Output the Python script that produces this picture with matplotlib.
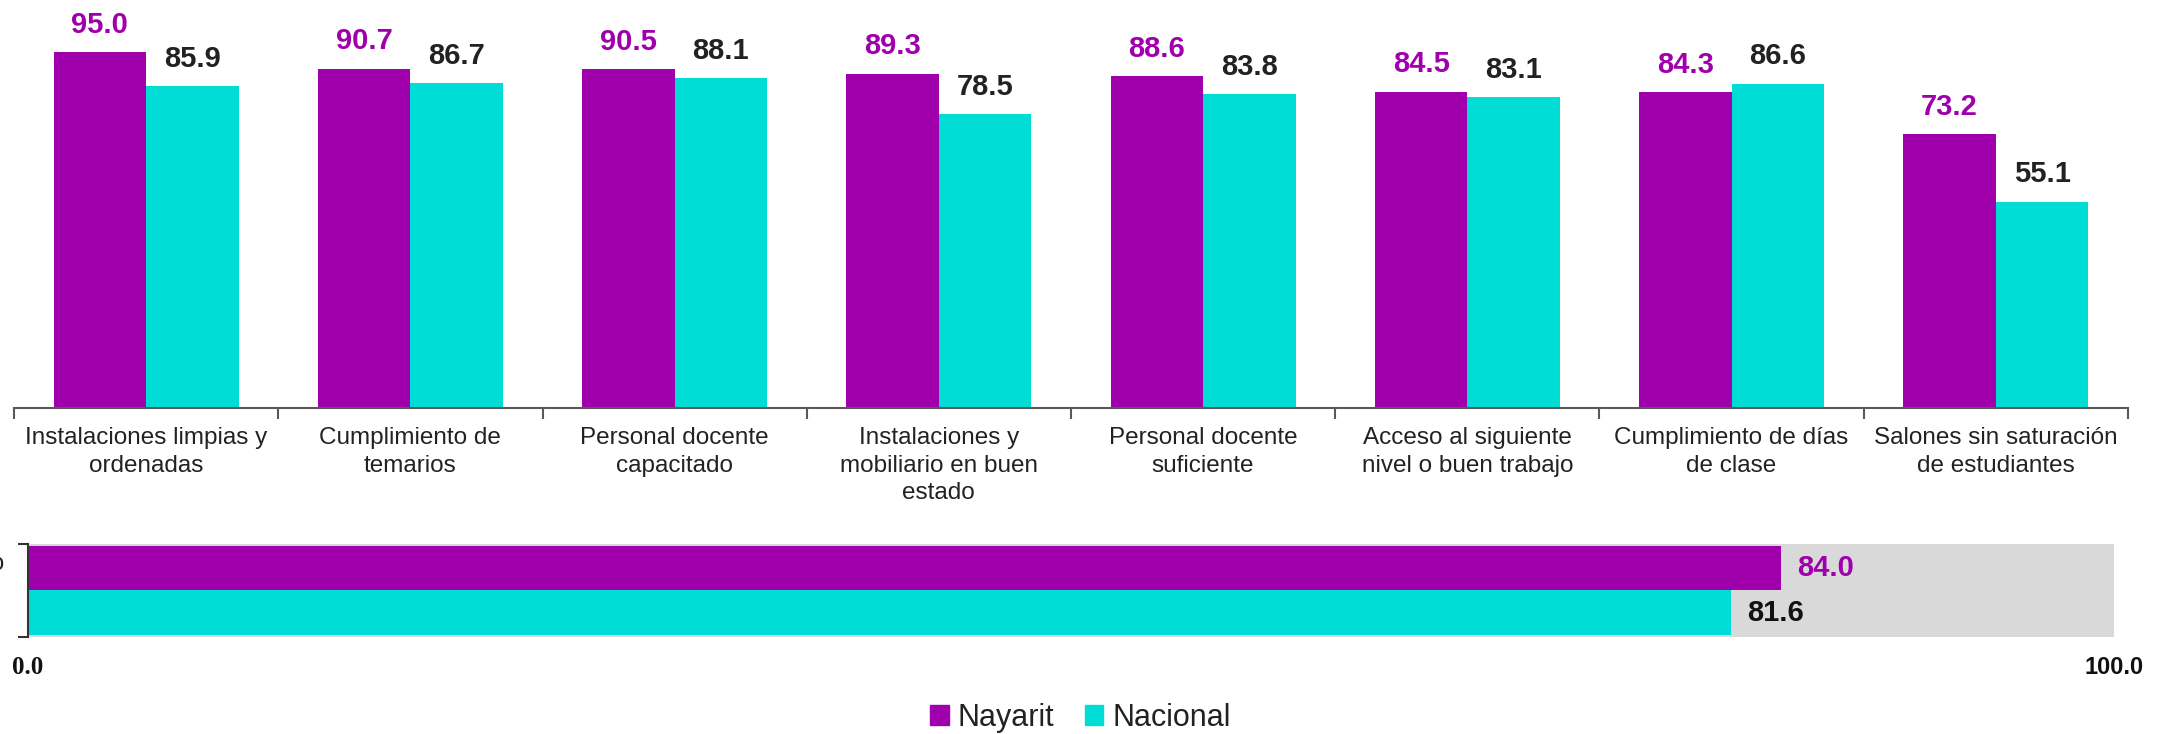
import matplotlib
matplotlib.use("Agg")
import matplotlib.pyplot as plt
from matplotlib.patches import Patch
import numpy as np

plt.rcParams['font.family'] = ['Liberation Sans', 'DejaVu Sans']

# datos
categorias = [
    "Instalaciones limpias y\nordenadas",
    "Cumplimiento de\ntemarios",
    "Personal docente\ncapacitado",
    "Instalaciones y\nmobiliario en buen\nestado",
    "Personal docente\nsuficiente",
    "Acceso al siguiente\nnivel o buen trabajo",
    "Cumplimiento de días\nde clase",
    "Salones sin saturación\nde estudiantes",
]
nayarit = [95.0, 90.7, 90.5, 89.3, 88.6, 84.5, 84.3, 73.2]
nacional = [85.9, 86.7, 88.1, 78.5, 83.8, 83.1, 86.6, 55.1]
promedio_etiqueta = "Promedio"
promedio_nayarit = 84.0
promedio_nacional = 81.6
escala = [0.0, 100.0]

morado = '#A000AC'
cian = '#00DDD6'
texto = '#222222'
gris = '#D9D9D9'

fig = plt.figure(figsize=(21.61, 7.34), dpi=100)

###
### Grafica de barras superior
###
ax = fig.add_axes([0.0065, 0.4441, 0.9782, 0.5559])
x = np.arange(len(categorias))
ancho = 0.35
b1 = ax.bar(x - ancho / 2, nayarit, ancho, color=morado)
b2 = ax.bar(x + ancho / 2, nacional, ancho, color=cian)

for barra, v in zip(b1, nayarit):
    ax.annotate(f"{v:.1f}", (barra.get_x() + barra.get_width() / 2, v),
                xytext=(0, 14), textcoords='offset points', ha='center', va='baseline',
                fontsize=21, fontweight='bold', color=morado, annotation_clip=False)
for barra, v in zip(b2, nacional):
    ax.annotate(f"{v:.1f}", (barra.get_x() + barra.get_width() / 2, v),
                xytext=(0, 14), textcoords='offset points', ha='center', va='baseline',
                fontsize=21, fontweight='bold', color=texto, annotation_clip=False)

ax.set_xlim(-0.5, len(categorias) - 0.5)
ax.set_ylim(0, 109)
ax.set_xticks(x)
ax.set_xticklabels(categorias, fontsize=17.5, color=texto, linespacing=1.32)
ax.set_xticks(np.arange(len(categorias) + 1) - 0.5, minor=True)
ax.tick_params(axis='x', which='major', length=0, pad=14)
ax.tick_params(axis='x', which='minor', length=8, color='#595959', width=1.5)
ax.set_yticks([])
for s in ['top', 'right', 'left']:
    ax.spines[s].set_visible(False)
ax.spines['bottom'].set_color('#595959')
ax.spines['bottom'].set_linewidth(1.5)

###
### Barra de promedio inferior
###
ax2 = fig.add_axes([0.01296, 0.1322, 0.9655, 0.1267])
ax2.set_facecolor(gris)
ax2.barh(1, promedio_nayarit, height=1.0, color=morado)
ax2.barh(0, promedio_nacional, height=1.0, color=cian)
ax2.set_xlim(escala)
ax2.set_ylim(-0.55, 1.55)

ax2.annotate(f"{promedio_nayarit:.1f}", (promedio_nayarit, 1), xytext=(12, 0),
             textcoords='offset points', ha='left', va='center',
             fontsize=21, fontweight='bold', color=morado)
ax2.annotate(f"{promedio_nacional:.1f}", (promedio_nacional, 0), xytext=(12, 0),
             textcoords='offset points', ha='left', va='center',
             fontsize=21, fontweight='bold', color='#111111')
ax2.annotate(promedio_etiqueta, (0, 1.1), xytext=(-17, 0), textcoords='offset points',
             ha='right', va='center', fontsize=17, color=texto, annotation_clip=False)

ax2.set_xticks(escala)
ax2.set_xticklabels([f"{v:.1f}" for v in escala])
ax2.tick_params(axis='x', length=0, pad=14)
etq = ax2.get_xticklabels()
etq[0].set_fontfamily('Liberation Serif')
etq[0].set_fontsize(18)
etq[0].set_fontweight('bold')
etq[1].set_fontsize(17)
etq[1].set_fontweight('bold')
for e in etq:
    e.set_color('#111111')

ax2.set_yticks([-0.55, 1.55])
ax2.set_yticklabels([])
ax2.tick_params(axis='y', length=7, width=1.5, color='#333333')
for s in ['top', 'right', 'bottom']:
    ax2.spines[s].set_visible(False)
ax2.spines['left'].set_color('#333333')
ax2.spines['left'].set_linewidth(1.5)

###
### Leyenda
###
manijas = [Patch(color=morado, label='Nayarit'), Patch(color=cian, label='Nacional')]
fig.legend(handles=manijas, loc='center', bbox_to_anchor=(0.5, 0.022), ncol=2,
           frameon=False, fontsize=22, handlelength=0.6, handleheight=0.6,
           handletextpad=0.3, columnspacing=1.0, labelcolor=texto)

fig.savefig('out.png', dpi=100)
